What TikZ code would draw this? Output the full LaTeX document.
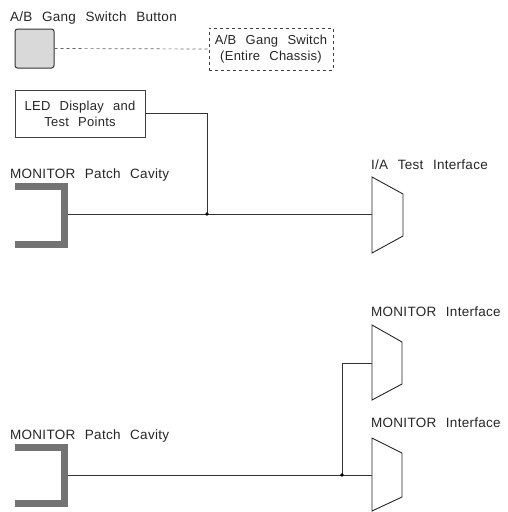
\documentclass[tikz,border=0pt]{standalone}
\usepackage{fontspec}
\setmainfont{Liberation Sans}[WordSpace=2.4, LetterSpace=2]
\begin{document}
\begin{tikzpicture}[x=1pt,y=-1pt,
  lbl/.style={anchor=base west, inner sep=0pt, text=black!85, font=\fontsize{13.5}{15}\selectfont},
  boxtxt/.style={font=\fontsize{13}{16}\selectfont, text=black!85, align=center, inner sep=0pt},
  wire/.style={draw=black!80, line width=0.7pt},
  cav/.style={draw=black!55, line width=7pt, line join=miter},
  trap/.style={draw=black!85, line width=0.9pt, line join=miter},
  jdot/.style={circle, fill=black, inner sep=0pt, minimum size=3.6pt}]
\useasboundingbox (0,0) rectangle (507,512);

% ---- top section ----
\node[lbl] (tbtn) at (10,21) {A/B Gang Switch Button};
\node[draw=black!80, fill=black!15, rounded corners=2.5pt, line width=1pt,
      minimum width=39pt, minimum height=39pt, inner sep=0pt] (btn) at (34.5,48.5) {};
\node[boxtxt, draw=black!75, dashed, line width=0.7pt, minimum width=124pt, minimum height=42pt] (sw) at (271,49)
  {A/B Gang Switch\\(Entire Chassis)};
\draw[wire, draw=black!60, dashed] (btn.east) -- (sw.west);

\node[boxtxt, draw=black!75, line width=0.8pt, minimum width=130pt, minimum height=47pt] (led) at (80,113.5)
  {LED Display and\\Test Points};

\node[lbl] (mpc1) at (10,178) {MONITOR Patch Cavity};
\draw[cav] (15,186) -- (64,186) -- (64,244) -- (15,244);
\coordinate (c1) at (67.5,214);

\node[lbl] (tia) at (371,169) {I/A Test Interface};
\draw[trap] (372,177) -- (403,194) -- (403,236) -- (372,253) -- cycle;
\coordinate (ia) at (372,214);

\coordinate (j1) at (207,214);
\draw[wire] (c1) -- (ia);
\draw[wire] (led.east) -| (j1);
\node[jdot] (d1) at (j1) {};

% ---- bottom section ----
\node[lbl] (tmi1) at (371,316) {MONITOR Interface};
\draw[trap] (372,325) -- (402,342) -- (402,384) -- (372,400) -- cycle;
\coordinate (m1) at (372,363);

\node[lbl] (tmi2) at (371,427) {MONITOR Interface};
\draw[trap] (372,438) -- (402,453) -- (402,497) -- (372,511) -- cycle;
\coordinate (m2) at (372,475);

\node[lbl] (mpc2) at (10,439) {MONITOR Patch Cavity};
\draw[cav] (15,447) -- (64,447) -- (64,503) -- (15,503);
\coordinate (c2) at (67.5,475);

\coordinate (j2) at (342,475);
\draw[wire] (c2) -- (m2);
\draw[wire] (j2) |- (m1);
\node[jdot] (d2) at (j2) {};
\end{tikzpicture}
\end{document}
